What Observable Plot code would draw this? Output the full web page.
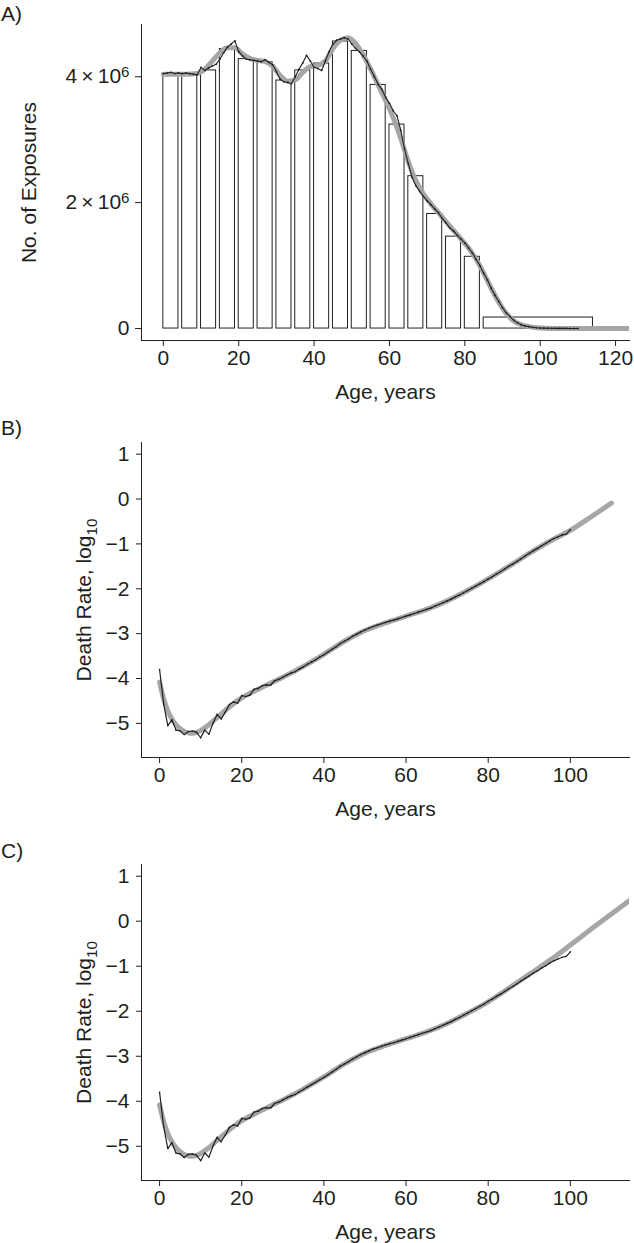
<!DOCTYPE html>
<html><head><meta charset="utf-8">
<script src="https://cdn.jsdelivr.net/npm/d3@7"></script>
<script src="https://cdn.jsdelivr.net/npm/@observablehq/plot@0.6"></script>
<style>
html,body{margin:0;padding:0;background:#fff;overflow:hidden;}
#wrap{position:relative;width:634px;height:1243px;font-family:"Liberation Sans",Arial,Helvetica,sans-serif;color:#231f20;}
#wrap svg{display:block;}
.plab{position:absolute;left:1px;font-size:21px;line-height:21px;}
</style></head><body><div id="wrap"></div>
<script>
// ---------- Panel A data (exposures, millions) ----------
const binStart = [0,5,10,15,20,25,30,35,40,45,50,55,60,65,70,75,80,85];
const binEnd   = [4,9,14,19,24,29,34,39,44,49,54,59,64,69,74,79,84,114];
const binExposures = [4.04,4.03,4.10,4.44,4.28,4.23,3.94,4.10,4.21,4.56,4.41,3.87,3.24,2.42,1.82,1.46,1.14,0.175];

const singleAges = d3.range(0, 111);
const singleExposures = [
  4.05,4.06,4.07,4.05,4.06,4.05,4.06,4.05,4.04,4.03,
  4.15,4.10,4.14,4.17,4.20,4.28,4.38,4.47,4.52,4.57,
  4.40,4.33,4.28,4.27,4.26,4.25,4.24,4.27,4.23,4.19,
  4.08,3.96,3.92,3.91,3.89,4.00,4.12,4.22,4.34,4.25,
  4.15,4.13,4.10,4.25,4.40,4.52,4.58,4.60,4.62,4.60,
  4.52,4.45,4.40,4.33,4.25,4.12,4.00,3.88,3.80,3.67,
  3.58,3.46,3.38,3.15,2.85,2.62,2.40,2.27,2.18,2.10,
  2.03,1.97,1.90,1.84,1.75,1.68,1.60,1.55,1.48,1.42,
  1.36,1.28,1.20,1.10,1.00,0.88,0.77,0.64,0.53,0.43,
  0.33,0.25,0.19,0.13,0.09,0.06,0.04,0.03,0.02,0.012,
  0.008,0.006,0.005,0.004,0.003,0.003,0.002,0.002,0.001,0.001,0.001
];

const fitAgesA = [0,3,6,9,11,13,15,17,19,21,23,25,27,29,31,33,35,37,39,41,43,45,47,49,51,53,55,57,59,61,63,65,67,69,71,73,75,77,79,81,83,85,87,89,91,93,95,97,100,105,125];
const fitExposures = [4.04,4.04,4.04,4.05,4.12,4.25,4.38,4.46,4.46,4.36,4.29,4.26,4.24,4.17,4.02,3.93,3.95,4.07,4.16,4.18,4.25,4.45,4.58,4.62,4.53,4.35,4.12,3.87,3.62,3.35,3.02,2.65,2.35,2.14,1.98,1.84,1.70,1.56,1.42,1.28,1.10,0.88,0.64,0.42,0.24,0.12,0.06,0.03,0.01,0.0,0.0];

const ticksA_x = [0,20,40,60,80,100,120];
const ticksA_y = [0,2,4];

// ---------- Panels B & C data (log10 death rate) ----------
const rateAges = d3.range(0, 101);
const logRate = [
  -3.80,-4.57,-5.05,-4.92,-5.15,-5.17,-5.25,-5.18,-5.17,-5.20,
  -5.32,-5.15,-5.24,-5.00,-4.80,-4.90,-4.75,-4.58,-4.52,-4.55,
  -4.38,-4.40,-4.37,-4.24,-4.22,-4.16,-4.14,-4.15,-4.05,-4.02,
  -3.97,-3.92,-3.88,-3.85,-3.79,-3.74,-3.68,-3.63,-3.58,-3.52,
  -3.47,-3.41,-3.35,-3.29,-3.22,-3.17,-3.12,-3.06,-3.01,-2.96,
  -2.92,-2.88,-2.84,-2.81,-2.78,-2.75,-2.72,-2.70,-2.67,-2.64,
  -2.61,-2.58,-2.55,-2.52,-2.49,-2.46,-2.43,-2.39,-2.35,-2.31,
  -2.27,-2.23,-2.18,-2.14,-2.09,-2.04,-1.99,-1.94,-1.89,-1.84,
  -1.78,-1.73,-1.67,-1.62,-1.56,-1.50,-1.45,-1.39,-1.33,-1.27,
  -1.21,-1.15,-1.10,-1.04,-0.99,-0.93,-0.88,-0.84,-0.80,-0.78,
  -0.68
];

const fitAgesB = [0,1,2,3,4,5,6,7,8,9,10,11,12,13,14,15,16,17,18,19,20,22,24,26,28,30,35,40,45,50,55,60,65,70,75,80,85,90,95,100,105,110];
const fitRateB = [-4.08,-4.45,-4.72,-4.90,-5.03,-5.12,-5.18,-5.21,-5.22,-5.20,-5.16,-5.10,-5.03,-4.95,-4.87,-4.79,-4.71,-4.63,-4.56,-4.49,-4.43,-4.33,-4.24,-4.15,-4.06,-3.97,-3.73,-3.46,-3.17,-2.93,-2.76,-2.61,-2.46,-2.27,-2.04,-1.78,-1.50,-1.21,-0.94,-0.70,-0.40,-0.09];

const fitAgesC = [0,1,2,3,4,5,6,7,8,9,10,11,12,13,14,15,16,17,18,19,20,22,24,26,28,30,35,40,45,50,55,60,65,70,75,80,85,90,95,100,105,110,115];
const fitRateC = [-4.08,-4.45,-4.72,-4.90,-5.03,-5.12,-5.18,-5.21,-5.22,-5.20,-5.16,-5.10,-5.03,-4.95,-4.87,-4.79,-4.71,-4.63,-4.56,-4.49,-4.43,-4.33,-4.24,-4.15,-4.06,-3.97,-3.73,-3.46,-3.17,-2.93,-2.76,-2.61,-2.46,-2.27,-2.04,-1.79,-1.49,-1.18,-0.87,-0.53,-0.18,0.16,0.50];

const ticksBC_x = [0,20,40,60,80,100];
const ticksBC_y = [-5,-4,-3,-2,-1,0,1];

// ---------- helpers ----------
const FONT = '"Liberation Sans", Arial, Helvetica, sans-serif';
const INK = "#231f20";
const GRAY = "#a6a6a6";
const zip = (xs, ys) => xs.map((x, i) => ({age: x, v: ys[i]})).filter(d => d.v !== undefined);

function base(height, mt, mb) {
  return {width: 634, height, marginLeft: 141, marginRight: 5, marginTop: mt, marginBottom: mb,
    style: {fontFamily: FONT, fontSize: "21px", color: INK, background: "white", overflow: "visible"}};
}

const wrap = document.getElementById("wrap");

// ---------- Panel A ----------
const obsA = zip(singleAges, singleExposures);
const fitA = zip(fitAgesA, fitExposures);
const plotA = Plot.plot({
  ...base(400, 24, 60),
  x: {domain: [-5.8, 123.7]},
  y: {domain: [-0.19, 4.83]},
  marks: [
    Plot.rect(binExposures, {x1: (d, i) => binStart[i], x2: (d, i) => binEnd[i], y1: 0, y2: d => d, fill: "white", stroke: INK, strokeWidth: 1}),
    Plot.line(fitA, {x: "age", y: "v", stroke: GRAY, strokeWidth: 5, curve: "monotone-x", clip: true}),
    Plot.line(obsA, {x: "age", y: "v", stroke: INK, strokeWidth: 1.1}),
    Plot.dot(obsA, {x: "age", y: "v", r: 0.9, fill: INK, stroke: null}),
    Plot.axisX({ticks: ticksA_x, tickSize: 6, tickPadding: 4, label: "Age, years", labelAnchor: "center", labelOffset: 58, labelArrow: "none"}),
    Plot.axisY({ticks: ticksA_y, tickSize: 6, tickPadding: 6, tickFormat: d => d === 0 ? "0" : `${d}\u2009×\u200910⁶`, label: "No. of Exposures", labelAnchor: "center", labelOffset: 120, labelArrow: "none"}),
    Plot.frame({anchor: "left"}),
    Plot.frame({anchor: "bottom"})
  ]
});

// ---------- Panels B & C ----------
const obsR = zip(rateAges, logRate);
const fmtInt = d3.format("d");
function ratePlot(height, mt, mb, fitData) {
  return Plot.plot({
    ...base(height, mt, mb),
    x: {domain: [-4.4, 114.4]},
    y: {domain: [-5.76, 1.26]},
    marks: [
      Plot.line(fitData, {x: "age", y: "v", stroke: GRAY, strokeWidth: 5, curve: "monotone-x", clip: true}),
      Plot.line(obsR, {x: "age", y: "v", stroke: INK, strokeWidth: 1.2}),
      Plot.dot(obsR, {x: "age", y: "v", r: 0.8, fill: INK, stroke: null}),
      Plot.axisX({ticks: ticksBC_x, tickSize: 6, tickPadding: 4, label: "Age, years", labelAnchor: "center", labelOffset: 58, labelArrow: "none"}),
      Plot.axisY({ticks: ticksBC_y, tickSize: 5, tickPadding: 7, tickFormat: fmtInt, label: "Death Rate, log₁₀", labelAnchor: "center", labelOffset: 65, labelArrow: "none"}),
      Plot.frame({anchor: "left"}),
      Plot.frame({anchor: "bottom"})
    ]
  });
}
const plotB = ratePlot(423, 42, 66, zip(fitAgesB, fitRateB));
const plotC = ratePlot(420, 41, 63, zip(fitAgesC, fitRateC));

// superscripts / subscripts as tspans
function fixText(svg) {
  d3.select(svg).selectAll("text").each(function () {
    const t = this.textContent;
    if (t.includes("⁶")) {
      const s = d3.select(this);
      s.text(t.replace("⁶", ""));
      s.append("tspan").attr("dy", "-0.45em").attr("font-size", "0.72em").text("6");
    } else if (t.includes("₁₀")) {
      const s = d3.select(this);
      s.text(t.replace("₁₀", ""));
      s.append("tspan").attr("dy", "0.35em").attr("font-size", "0.72em").text("10");
    }
  });
}
[plotA, plotB, plotC].forEach(p => { fixText(p); wrap.appendChild(p); });

// panel letters
[["A)", 3], ["B)", 417], ["C)", 840]].forEach(([t, top]) => {
  const d = document.createElement("div");
  d.className = "plab"; d.style.top = top + "px"; d.textContent = t;
  wrap.appendChild(d);
});
</script>
</body></html>
